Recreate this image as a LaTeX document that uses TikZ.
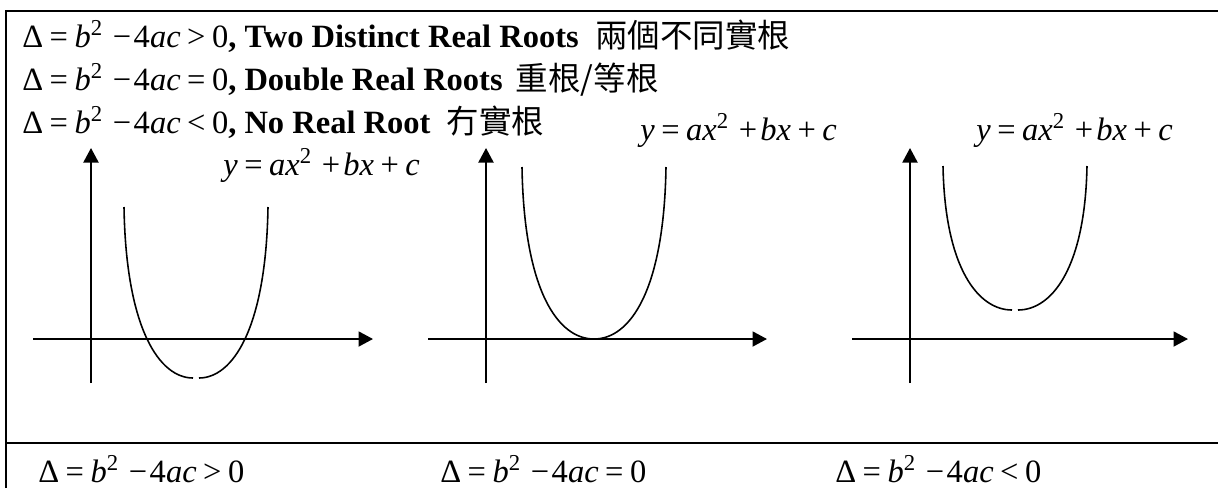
\documentclass[tikz,border=0pt]{standalone}
\usepackage{fontspec}
\setmainfont{Liberation Serif}
\newfontfamily\cjk{Noto Sans CJK TC}
\usetikzlibrary{arrows.meta}

\newcommand{\gp}{\hspace{0.2em}}
\newcommand{\disc}[1]{Δ\gp=\gp\textit{b}\textsuperscript{2}\hspace{0.3em}−\hspace{0.08em}4\textit{ac}\gp#1\gp0}
\newcommand{\quadeq}{\textit{y}\gp=\gp\textit{ax}\textsuperscript{2}\hspace{0.3em}+\hspace{0.1em}\textit{bx}\gp+\gp\textit{c}}

\begin{document}
\begin{tikzpicture}[x=0.02cm, y=-0.02cm,
	txt/.style={anchor=base west, inner sep=0pt, font=\fontsize{18.5}{22}\selectfont},
	axis/.style={line width=1.1pt, -{Triangle[length=0.29cm, width=0.3cm]}},
	curve/.style={line width=0.9pt}]
	% centre x, bottom y, height, half gap
	\def\parab#1#2#3#4{%
		\draw[curve] (#1-#4,#2) .. controls (#1-36,#2) and (#1-70,#2-0.28*#3) .. (#1-72,#2-#3);
		\draw[curve] (#1+#4,#2) .. controls (#1+36,#2) and (#1+70,#2-0.28*#3) .. (#1+72,#2-#3);}
	\useasboundingbox (0,0) rectangle (1218,488);
	% frame
	\draw[line width=1.1pt] (6,488) -- (6,11) -- (1218,11);
	\draw[line width=1.1pt] (6,443) -- (1218,443);
	% rows
	\node[txt] (r1) at (22,47) {\disc{>}\textbf{, Two Distinct Real Roots}\hspace{0.5em}{\cjk 兩個不同實根}};
	\node[txt] (r2) at (22,90) {\disc{=}\textbf{, Double Real Roots}\hspace{0.4em}{\cjk 重根/等根}};
	\node[txt] (r3) at (22,133) {\disc{<}\textbf{, No Real Root}\hspace{0.5em}{\cjk 冇實根}};
	% two roots
	\begin{scope}[shift={(91,339)}]
		\coordinate (x1s) at (-58,0); \coordinate (x1e) at (282,0);
		\coordinate (y1s) at (0,44);  \coordinate (y1e) at (0,-191);
		\draw[axis] (x1s) -- (x1e);
		\draw[axis] (y1s) -- (y1e);
		\parab{105}{39}{171}{3}
		\node[txt] (lab1) at (132,-164) {\quadeq};
	\end{scope}
	% double root
	\begin{scope}[shift={(486,339)}]
		\coordinate (x2s) at (-58,0); \coordinate (x2e) at (281,0);
		\coordinate (y2s) at (0,44);  \coordinate (y2e) at (0,-191);
		\draw[axis] (x2s) -- (x2e);
		\draw[axis] (y2s) -- (y2e);
		\parab{108}{0}{172}{0}
		\node[txt] (lab2) at (154,-199) {\quadeq};
	\end{scope}
	% no root
	\begin{scope}[shift={(910,339)}]
		\coordinate (x3s) at (-58,0); \coordinate (x3e) at (278,0);
		\coordinate (y3s) at (0,44);  \coordinate (y3e) at (0,-191);
		\draw[axis] (x3s) -- (x3e);
		\draw[axis] (y3s) -- (y3e);
		\parab{105}{-29}{144}{3}
		\node[txt] (lab3) at (66,-199) {\quadeq};
	\end{scope}
	% bottom row
	\node[txt] (d1) at (38,482) {\disc{>}};
	\node[txt] (d2) at (440,482) {\disc{=}};
	\node[txt] (d3) at (835,482) {\disc{<}};
\end{tikzpicture}
\end{document}
